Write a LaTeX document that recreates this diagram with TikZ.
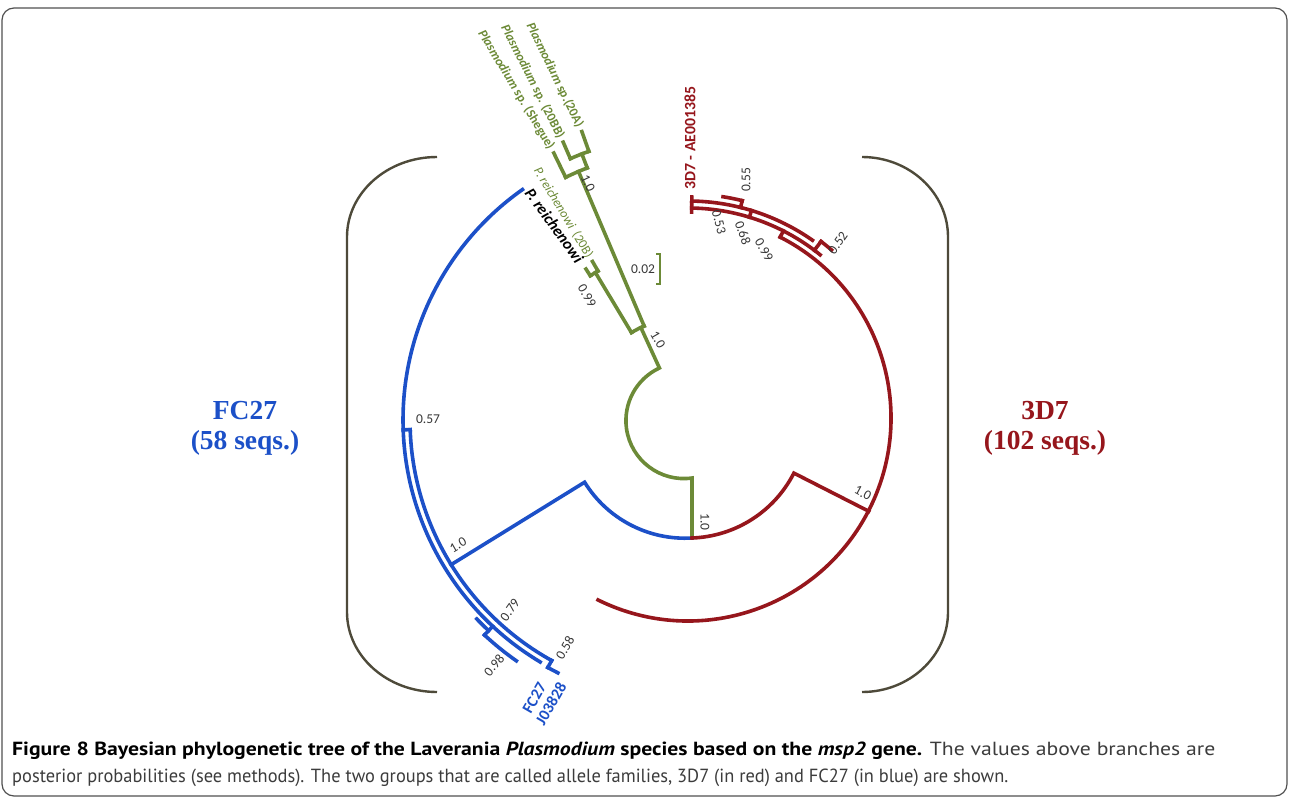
\documentclass[tikz,border=0pt]{standalone}
\usepackage{fontspec}
\setmainfont{Carlito}
\newfontfamily\capfont{PT Sans}
\newfontfamily\grpfont{Liberation Serif}
\usepackage{graphicx}
\usetikzlibrary{calc}
\definecolor{tblue}{RGB}{28,80,200}
\definecolor{tred}{RGB}{150,22,28}
\definecolor{tgreen}{RGB}{108,138,55}
\definecolor{brk}{RGB}{78,74,58}
\definecolor{numc}{RGB}{55,55,55}
\definecolor{framec}{RGB}{80,80,80}
\definecolor{capgray}{RGB}{60,60,60}
\newcommand\carc[5]{\draw[#1] ($(#2)+(#3:#5)$) arc[start angle=#3, end angle=#4, radius=#5];}
\newcommand\crad[5]{\draw[#1] ($(#2)+(#3:#4)$) -- ($(#2)+(#3:#5)$);}
\begin{document}
\begin{tikzpicture}[x=1pt,y=1pt,
  tb/.style={line width=3.6pt, line cap=rect, line join=miter},
  blu/.style={tb, draw=tblue},
  rd/.style={tb, draw=tred},
  grn/.style={tb, draw=tgreen},
  brak/.style={line width=2.4pt, draw=brk},
  num/.style={font=\fontsize{13.5}{14}\selectfont, text=numc, inner sep=0pt},
  leaf/.style={inner sep=1pt, anchor=east},
  grp/.style={font=\grpfont\bfseries\fontsize{27.5}{30}\selectfont, inner sep=0pt, anchor=base}]
\useasboundingbox (0,0) rectangle (1289,-797);
\fill[white] (0,0) rectangle (1289,-797);
\draw[framec, line width=1.2pt, rounded corners=12pt] (2,-8) rectangle (1287,-796);

\coordinate (root) at (692,-538);
\coordinate (CB) at (685,-420);
\coordinate (CR) at (688,-418);
\coordinate (CG) at (684,-420);

% brackets
\draw[brak] (437,-157) arc[start angle=90, end angle=180, x radius=90, y radius=80] -- (347,-612) arc[start angle=180, end angle=270, x radius=90, y radius=80];
\draw[brak] (862,-157) arc[start angle=90, end angle=0, x radius=86, y radius=80] -- (948,-612) arc[start angle=0, end angle=-90, x radius=86, y radius=80];

% green clade
\draw[grn] (root) -- (692,-478) arc[start angle=-82, end angle=-245, radius=58] -- ($(CG)+(115:102)$);
\carc{grn}{CG}{113}{121}{102}
\crad{grn}{CG}{113}{102}{270}
\carc{grn}{CG}{111}{116}{270}
\crad{grn}{CG}{116}{270}{297}
\crad{grn}{CG}{111}{270}{285}
\carc{grn}{CG}{109.5}{113.5}{285}
\crad{grn}{CG}{113.5}{285}{303}
\crad{grn}{CG}{109.5}{285}{306}
\crad{grn}{CG}{121}{102}{172}
\carc{grn}{CG}{120}{123}{172}
\crad{grn}{CG}{120}{172}{183}
\crad{grn}{CG}{123}{172}{180}
\draw[tgreen, line width=1.8pt] (656,-254) -- (660,-254) -- (660,-284) -- (656,-284);

% blue clade
\draw[blu] (root) arc[start angle=-86.6, end angle=-148.3, radius=118] -- ++(-148.3:157);
\carc{blu}{CB}{125.2}{239.1}{282}
\crad{blu}{CB}{182}{275}{282}
\carc{blu}{CB}{182}{241}{275}
\crad{blu}{CB}{241}{275}{283}
\carc{blu}{CB}{241}{243.3}{283}
\crad{blu}{CB}{227}{282}{294}
\carc{blu}{CB}{223.7}{227}{288}
\carc{blu}{CB}{227}{235}{294}

% red clade
\draw[rd] (root) arc[start angle=-88, end angle=-27, radius=119] -- ++(-27:84);
\carc{rd}{CR}{-116.3}{63}{203}
\crad{rd}{CR}{63}{203}{210}
\carc{rd}{CR}{51}{89}{210}
\carc{rd}{CR}{55}{89}{217}
\crad{rd}{CR}{89}{206}{221}
\crad{rd}{CR}{73}{210}{217}
\crad{rd}{CR}{76}{217}{224}
\carc{rd}{CR}{76}{81}{224}
\crad{rd}{CR}{53}{210}{221}
\carc{rd}{CR}{49.5}{53}{221}

% leaf labels
\node[leaf, rotate=-64, text=tgreen, font=\bfseries\fontsize{13}{13}\selectfont] (l20a) at ($(CG)+(109.5:310)$) {\textit{Plasmodium} sp.(20A)};
\node[leaf, rotate=-63, text=tgreen, font=\bfseries\fontsize{13}{13}\selectfont] (l20bb) at ($(CG)+(113.5:307)$) {\textit{Plasmodium} sp. (20BB)};
\node[leaf, rotate=-59, text=tgreen, font=\bfseries\fontsize{13}{13}\selectfont] (lsheg) at ($(CG)+(116:301)$) {\textit{Plasmodium} sp. (Shegue)};
\node[leaf, rotate=-59, text=tgreen, font=\fontsize{13}{13}\selectfont] (l20b) at ($(CG)+(120:187)$) {\textit{P. reichenowi}~ (20B)};
\node[leaf, rotate=-54, text=black, font=\bfseries\fontsize{16}{16}\selectfont] (lrei) at (581,-262) {\textit{P. reichenowi}};
\node[inner sep=1pt, anchor=west, rotate=90, text=tred, font=\bfseries\fontsize{15.8}{16}\selectfont] (l3d7) at (690,-191) {3D7 - AE001385};
\node[leaf, rotate=60, text=tblue, font=\bfseries\fontsize{16}{16}\selectfont] (lfc) at (543,-683) {FC27};
\node[leaf, rotate=60, text=tblue, font=\bfseries\fontsize{16}{16}\selectfont] (lj) at (563,-683) {J03828};

% support values
\node[num] (g1) at (588,-183) [rotate=-65] {1.0};
\node[num] (g2) at (658,-340) [rotate=-60] {1.0};
\node[num] (g3) at (587,-296) [rotate=-60] {0.99};
\node[num] (g4) at (705,-522) [rotate=-90] {1.0};
\node[num] (g5) at (643,-269) {0.02};
\node[num] (b1) at (428,-419) {0.57};
\node[num] (b2) at (458,-545) [rotate=30] {1.0};
\node[num] (b3) at (510,-610) [rotate=55] {0.79};
\node[num] (b4) at (565,-648) [rotate=60] {0.58};
\node[num] (b5) at (494,-665) [rotate=50] {0.98};
\node[num] (r1) at (746,-180) [rotate=90] {0.55};
\node[num] (r2) at (719,-222) [rotate=-75] {0.53};
\node[num] (r3) at (743,-233) [rotate=-70] {0.68};
\node[num] (r4) at (764,-250) [rotate=-60] {0.99};
\node[num] (r5) at (838,-243) [rotate=55] {0.52};
\node[num] (r6) at (863,-493) [rotate=-28] {1.0};

% group labels
\node[grp, text=tblue] (fc) at (245,-419) {FC27};
\node[grp, text=tblue] (fcs) at (245,-449) {(58 seqs.)};
\node[grp, text=tred] (rd) at (1045,-419) {3D7};
\node[grp, text=tred] (rds) at (1045,-449) {(102 seqs.)};

% caption
\node[anchor=base west, inner sep=0pt] (cap1) at (12,-755) {\resizebox{1203pt}{\height}{\capfont\fontsize{19}{22}\selectfont{\bfseries Figure 8 Bayesian phylogenetic tree of the Laverania \textit{Plasmodium} species based on the \textit{msp2} gene.} \textcolor{capgray}{The values above branches are}}};
\node[anchor=base west, inner sep=0pt] (cap2) at (12,-782) {\resizebox{996pt}{\height}{\capfont\fontsize{19}{22}\selectfont\color{capgray}posterior probabilities (see methods). The two groups that are called allele families, 3D7 (in red) and FC27 (in blue) are shown.}};
\end{tikzpicture}
\end{document}
